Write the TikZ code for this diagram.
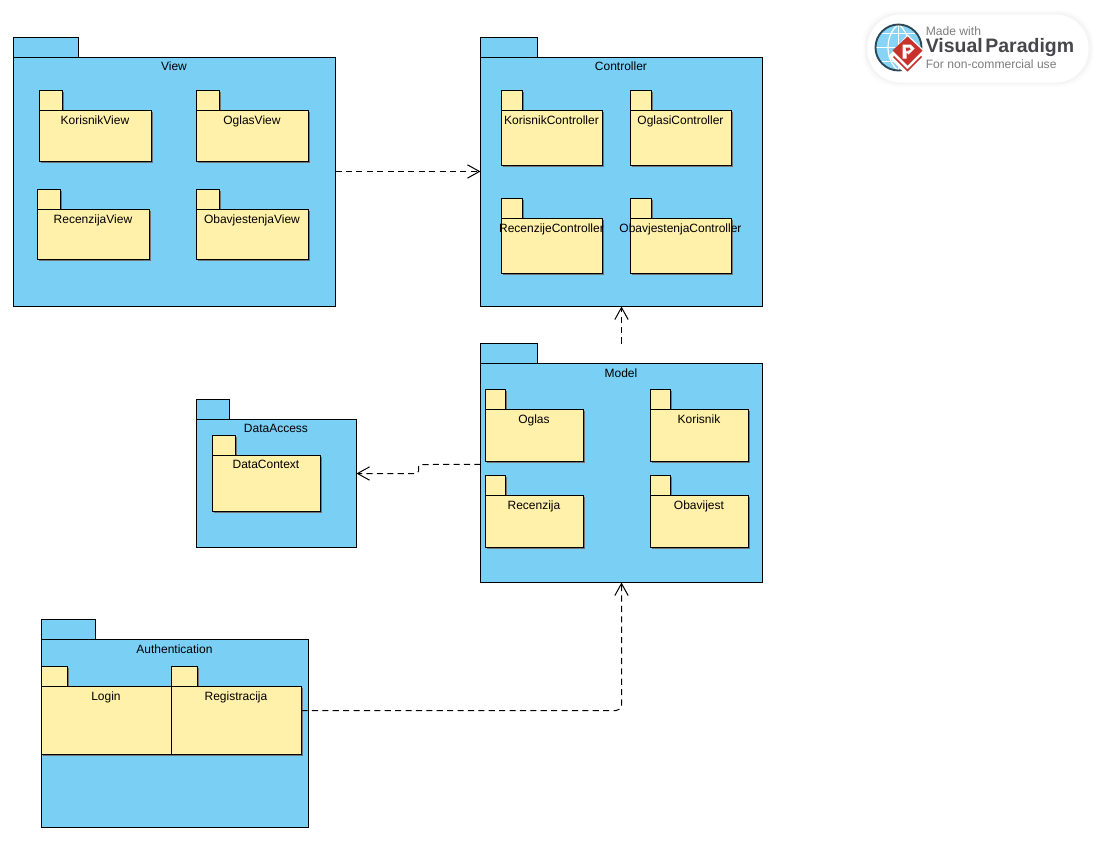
\documentclass[tikz,border=0pt]{standalone}
\usepackage{fontspec}
\setmainfont{Liberation Sans}
\usetikzlibrary{arrows.meta,shadows}
\definecolor{pkgblue}{RGB}{122,207,245}
\definecolor{pkgyellow}{RGB}{255,240,170}
\definecolor{vpred}{RGB}{200,50,45}
\definecolor{vpgray}{RGB}{125,125,125}
\definecolor{vpdark}{RGB}{70,70,75}
\def\px{.75pt}
\tikzset{pkg/.style={draw=black, line width=.75pt, inner sep=0pt, outer sep=0pt, font=\fontsize{9}{11}\selectfont}}
\tikzset{outer/.style={pkg, fill=pkgblue}}
\tikzset{inner/.style={pkg, fill=pkgyellow, drop shadow={shadow xshift=.75pt, shadow yshift=-.75pt, fill=black!55, opacity=1}}}
\tikzset{tab/.style={anchor=south west, minimum height=20*\px}}
\tikzset{title/.style={label={[anchor=north, inner sep=0pt, xshift=-.4pt, yshift=-3.4pt, font=\fontsize{9}{11}\selectfont]90:#1}}}
\tikzset{dep/.style={dash pattern=on 4.6pt off 3.2pt, line width=.75pt, -{Straight Barb[length=9pt, width=10pt]}}}
\begin{document}
\begin{tikzpicture}[x=.75pt, y=-.75pt]
\useasboundingbox (-.5,-.5) rectangle (1099.5,849.5);

% View
\node (viewtab) at (13,57)[outer, tab, minimum width=65*\px]{};
\node (view) at (174,181.5)[outer, minimum width=322*\px, minimum height=249*\px, title=View]{};
\node (korisnikviewtab) at (39,110)[inner, tab, minimum width=23*\px]{};
\node (korisnikview) at (95,135.5)[inner, minimum width=112*\px, minimum height=51*\px, title=KorisnikView]{};
\node (oglasviewtab) at (196,110)[inner, tab, minimum width=23*\px]{};
\node (oglasview) at (252,135.5)[inner, minimum width=112*\px, minimum height=51*\px, title=OglasView]{};
\node (recenzijaviewtab) at (37,209)[inner, tab, minimum width=23*\px]{};
\node (recenzijaview) at (93,234)[inner, minimum width=112*\px, minimum height=50*\px, title=RecenzijaView]{};
\node (obavjestenjaviewtab) at (196,209)[inner, tab, minimum width=23*\px]{};
\node (obavjestenjaview) at (252,234)[inner, minimum width=112*\px, minimum height=50*\px, title=ObavjestenjaView]{};

% Controller
\node (controllertab) at (480,57)[outer, tab, minimum width=57*\px]{};
\node (controller) at (621,181.5)[outer, minimum width=282*\px, minimum height=249*\px, title=Controller]{};
\node (korisnikctab) at (501,110)[inner, tab, minimum width=21*\px]{};
\node (korisnikc) at (551.5,137.5)[inner, minimum width=101*\px, minimum height=55*\px, title=KorisnikController]{};
\node (oglasictab) at (630,110)[inner, tab, minimum width=21*\px]{};
\node (oglasic) at (680.5,137.5)[inner, minimum width=101*\px, minimum height=55*\px, title=OglasiController]{};
\node (recenzijectab) at (501,218)[inner, tab, minimum width=21*\px]{};
\node (recenzijec) at (551.5,245.5)[inner, minimum width=101*\px, minimum height=55*\px, title=RecenzijeController]{};
\node (obavjestenjactab) at (630,218)[inner, tab, minimum width=21*\px]{};
\node (obavjestenjac) at (680.5,245.5)[inner, minimum width=101*\px, minimum height=55*\px, title=ObavjestenjaController]{};

% Model
\node (modeltab) at (480,363)[outer, tab, minimum width=57*\px]{};
\node (model) at (621,472.5)[outer, minimum width=282*\px, minimum height=219*\px, title=Model]{};
\node (oglastab) at (485,409)[inner, tab, minimum width=20*\px]{};
\node (oglas) at (534,435)[inner, minimum width=98*\px, minimum height=52*\px, title=Oglas]{};
\node (korisniktab) at (650,409)[inner, tab, minimum width=20*\px]{};
\node (korisnik) at (699,435)[inner, minimum width=98*\px, minimum height=52*\px, title=Korisnik]{};
\node (recenzijatab) at (485,495)[inner, tab, minimum width=20*\px]{};
\node (recenzija) at (534,521)[inner, minimum width=98*\px, minimum height=52*\px, title=Recenzija]{};
\node (obavijesttab) at (650,495)[inner, tab, minimum width=20*\px]{};
\node (obavijest) at (699,521)[inner, minimum width=98*\px, minimum height=52*\px, title=Obavijest]{};

% DataAccess
\node (dataaccesstab) at (196,419)[outer, tab, minimum width=33*\px]{};
\node (dataaccess) at (276,483)[outer, minimum width=160*\px, minimum height=128*\px, title=DataAccess]{};
\node (datacontexttab) at (212,455)[inner, tab, minimum width=23*\px]{};
\node (datacontext) at (266,483)[inner, minimum width=108*\px, minimum height=56*\px, title=DataContext]{};

% Authentication
\node (authtab) at (41,639)[outer, tab, minimum width=54*\px]{};
\node (auth) at (174.5,733)[outer, minimum width=267*\px, minimum height=188*\px, title=Authentication]{};
\node (logintab) at (41,686)[inner, tab, minimum width=26*\px]{};
\node (login) at (106,720)[inner, minimum width=130*\px, minimum height=68*\px, title=Login]{};
\node (registracijatab) at (171,686)[inner, tab, minimum width=26*\px]{};
\node (registracija) at (236,720)[inner, minimum width=130*\px, minimum height=68*\px, title=Registracija]{};

% dependencies
\draw[dep] ([yshift=7.9pt]view.east)--([yshift=7.9pt]controller.west);
\draw[dep] (model.north |- modeltab.north)--(controller.south);
\draw[dep, rounded corners=2pt] ([yshift=6.4pt]model.west)--(418,464)--(418,473)--([yshift=7.5pt]dataaccess.east);
\draw[dep, rounded corners=4pt] ([yshift=7.5pt]registracija.east)-|(model.south);

% badge
\fill[black!1.5, rounded corners=26pt] (862,10) rectangle (1093,86);
\fill[black!4, rounded corners=26pt] (864,12) rectangle (1091,84);
\fill[white, rounded corners=25pt] (867,14) rectangle (1088,82);
\fill[pkgblue!90!white] (898,47) circle (23);
\draw[white, line width=.9pt] (898,24)--(898,70) (875,47)--(921,47) (879,33)--(917,33) (879,61)--(917,61);
\draw[white, line width=.9pt] (898,24) .. controls (884,34) and (884,60) .. (898,70);
\draw[white, line width=.9pt] (898,24) .. controls (912,34) and (912,60) .. (898,70);
\draw[black!50!pkgblue!70!black, line width=1.4pt] (898,47) circle (23);
\fill[white] (907,34) -- (926,52) -- (907,76) -- (888,56) -- cycle;
\fill[vpred] (907,36) -- (922,50) -- (907,65) -- (892,50) -- cycle;
\draw[vpred, line width=1.2pt] (893,56) -- (907,70) -- (921,56);
\fill[white] (902,44) -- (910,44) -- (914,48) -- (908,54) -- (906,52) -- (906,58) -- (902,58) -- cycle;
\fill[vpred] (905,47) -- (909,47) -- (910,49) -- (906,51) -- cycle;
\node (madewith) at (925,31)[anchor=west, inner sep=0pt, text=vpgray, font=\fontsize{9.1}{10}\selectfont]{Made with};
\node (vpname) at (925,47.5)[anchor=west, inner sep=0pt, text=vpdark, font=\fontsize{14.6}{16}\selectfont\bfseries]{Visual\kern2pt Paradigm};
\node (vpuse) at (925,64)[anchor=west, inner sep=0pt, text=vpgray, font=\fontsize{9.1}{10}\selectfont]{For non-commercial use};
\end{tikzpicture}
\end{document}
